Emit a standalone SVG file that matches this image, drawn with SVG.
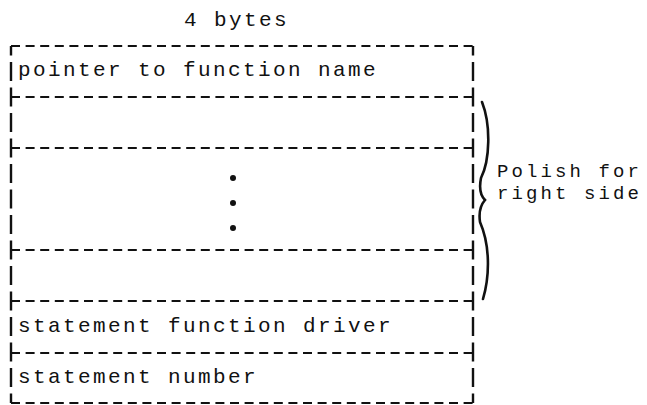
<svg xmlns="http://www.w3.org/2000/svg" width="647" height="405" viewBox="0 0 647 405">
<style>
.t{font-family:"Liberation Mono","Courier New",monospace;font-size:21px;letter-spacing:2.4px;fill:#111}
.s{font-size:19px;letter-spacing:3.1px}
.h{stroke:#111;stroke-width:2.2;stroke-dasharray:9 5.6;fill:none}
.v{stroke:#111;stroke-width:2.4;stroke-dasharray:19 6.5;stroke-dashoffset:9.5;fill:none}
.b{stroke:#111;stroke-width:2.6;fill:none;stroke-linecap:round}
</style>
<rect width="647" height="405" fill="#fff"/>
<text class="t" x="184" y="26">4 bytes</text>
<g id="frame">
<line class="v" x1="11" y1="46" x2="11" y2="403"/>
<line class="v" x1="473" y1="46" x2="473" y2="403"/>
<line class="h" x1="11" y1="46" x2="473" y2="46"/>
<line class="h" x1="11" y1="403" x2="473" y2="403"/>
</g>
<g id="row-pointer">
<line class="h" x1="11" y1="97" x2="473" y2="97"/>
<text class="t" x="18" y="76">pointer to function name</text>
</g>
<g id="row-polish-1">
<line class="h" x1="11" y1="148" x2="473" y2="148"/>
</g>
<g id="row-polish-dots">
<circle cx="233" cy="178" r="3" fill="#111"/>
<circle cx="233" cy="203" r="3" fill="#111"/>
<circle cx="233" cy="228" r="3" fill="#111"/>
</g>
<g id="row-polish-last">
<line class="h" x1="11" y1="250" x2="473" y2="250"/>
</g>
<g id="row-driver">
<line class="h" x1="11" y1="301" x2="473" y2="301"/>
<text class="t" x="18" y="332">statement function driver</text>
</g>
<g id="row-number">
<line class="h" x1="11" y1="353" x2="473" y2="353"/>
<text class="t" x="18" y="383">statement number</text>
</g>
<g id="brace">
<path class="b" d="M482,102 C491,125 490,160 481,178 Q478,193 485,200 Q478,208 480,222 C490,245 490,275 483,299"/>
<text class="t s" x="497" y="177">Polish for</text>
<text class="t s" x="497" y="199">right side</text>
</g>
</svg>
